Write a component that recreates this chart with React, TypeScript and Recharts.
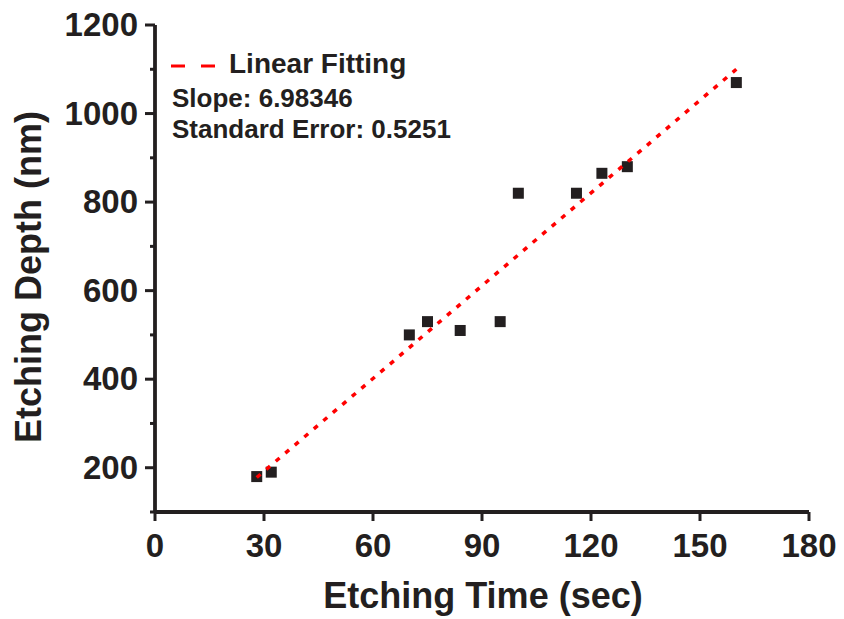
import { Legend, Scatter, ScatterChart, XAxis, YAxis } from 'recharts'

// measured etching depth vs time
const timeSec = [28, 32, 70, 75, 84, 95, 100, 116, 123, 130, 160]
const depthNm = [180, 190, 500, 530, 510, 530, 820, 820, 865, 880, 1070]

// linear fit end points
const fitTime = [28, 160]
const fitDepth = [178, 1100]

const xTicks = [0, 30, 60, 90, 120, 150, 180]
const yTicks = [100, 200, 300, 400, 500, 600, 700, 800, 900, 1000, 1100, 1200]
const yLabeled = [200, 400, 600, 800, 1000, 1200]

const slopeText = 'Slope: 6.98346'
const errorText = 'Standard Error: 0.5251'
const fitLabel = 'Linear Fitting'

const INK = '#231f20'
const RED = '#ff0000'
const FONT = '"Liberation Sans", Arial, sans-serif'

const points = timeSec.map((t, i) => ({ t, d: depthNm[i] }))
const fit = fitTime.map((t, i) => ({ t, d: fitDepth[i] }))

function XTick({ x, y, payload }: any) {
  return (
    <g>
      <line x1={x} x2={x} y1={y} y2={y + 9} stroke={INK} strokeWidth={3} />
      <text x={x} y={y + 45} textAnchor="middle" fill={INK} fontSize={33} fontWeight="bold" fontFamily={FONT}>
        {payload.value}
      </text>
    </g>
  )
}

function YTick({ x, y, payload }: any) {
  const major = yLabeled.includes(payload.value)
  return (
    <g>
      <line x1={x} x2={x - (major ? 10 : 5)} y1={y} y2={y} stroke={INK} strokeWidth={3} />
      {major && (
        <text x={x - 17} y={y + 11} textAnchor="end" fill={INK} fontSize={33} fontWeight="bold" fontFamily={FONT}>
          {payload.value}
        </text>
      )}
    </g>
  )
}

function YTitle() {
  return (
    <text
      x={41}
      y={277}
      transform="rotate(-90 41 277)"
      textAnchor="middle"
      fill={INK}
      fontSize={36}
      fontWeight="bold"
      fontFamily={FONT}
    >
      Etching Depth (nm)
    </text>
  )
}

function XTitle() {
  return (
    <text x={483} y={608} textAnchor="middle" fill={INK} fontSize={36} fontWeight="bold" fontFamily={FONT}>
      Etching Time (sec)
    </text>
  )
}

function FitLegend() {
  return (
    <svg width={300} height={110} style={{ display: 'block', overflow: 'visible' }}>
      <line x1={11} x2={55} y1={26} y2={26} stroke={RED} strokeWidth={3} strokeDasharray="14 16" />
      <text x={69} y={33} fill={INK} fontSize={28} fontWeight="bold" fontFamily={FONT}>
        {fitLabel}
      </text>
      <text x={12} y={67} fill={INK} fontSize={26} fontWeight="bold" fontFamily={FONT}>
        {slopeText}
      </text>
      <text x={12} y={98} fill={INK} fontSize={26} fontWeight="bold" fontFamily={FONT}>
        {errorText}
      </text>
    </svg>
  )
}

function Square({ cx, cy }: any) {
  return <rect x={cx - 5.5} y={cy - 5.5} width={11} height={11} fill={INK} />
}

export default function App() {
  return (
    <div style={{ position: 'absolute', left: 0, top: 0, width: 844, height: 619, background: '#fff' }}>
      <ScatterChart width={844} height={619} margin={{ top: 25, right: 35, bottom: 0, left: 0 }}>
        <XAxis
          dataKey="t"
          type="number"
          domain={[0, 180]}
          ticks={xTicks}
          height={107}
          tickSize={0}
          tickMargin={0}
          tickLine={false}
          axisLine={{ stroke: INK, strokeWidth: 3.8 }}
          tick={<XTick />}
          label={<XTitle />}
        />
        <XAxis
          xAxisId="top"
          orientation="top"
          type="number"
          domain={[0, 180]}
          height={0}
          tick={false}
          tickLine={false}
          axisLine={{ stroke: INK, strokeWidth: 3.8 }}
        />
        <YAxis
          dataKey="d"
          type="number"
          domain={[100, 1200]}
          ticks={yTicks}
          width={155}
          tickSize={0}
          tickMargin={0}
          tickLine={false}
          axisLine={{ stroke: INK, strokeWidth: 3.8 }}
          tick={<YTick />}
          label={<YTitle />}
        />
        <YAxis
          yAxisId="right"
          orientation="right"
          type="number"
          domain={[100, 1200]}
          width={0}
          tick={false}
          tickLine={false}
          axisLine={{ stroke: INK, strokeWidth: 3.8 }}
        />
        <Legend
          layout="horizontal"
          verticalAlign="middle"
          align="center"
          content={() => <FitLegend />}
          wrapperStyle={{ left: 160, top: 40, width: 300, height: 110 }}
        />
        <Scatter data={points} shape={<Square />} isAnimationActive={false} />
        <Scatter
          data={fit}
          line={{ stroke: RED, strokeWidth: 3.5, strokeDasharray: '5 7.5' }}
          shape={() => <g />}
          isAnimationActive={false}
        />
      </ScatterChart>
    </div>
  )
}
